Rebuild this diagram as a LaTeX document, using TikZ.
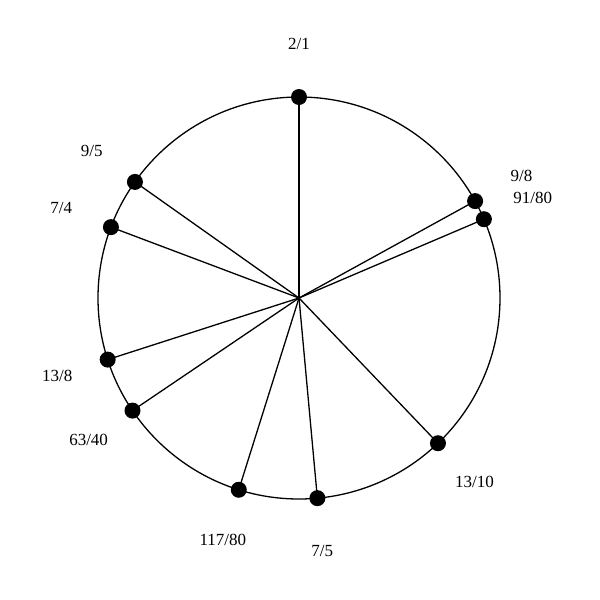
\documentclass[tikz,border=0pt]{standalone}
\usepackage{fontspec}
\setmainfont{Liberation Serif}
\begin{document}
\begin{tikzpicture}[x=1pt,y=-1pt,
  dot/.style={circle,fill=black,inner sep=0pt,minimum size=16pt},
  lbl/.style={font=\fontsize{17}{19}\selectfont,inner sep=0pt},
  spoke/.style={line width=1.3pt}]
\useasboundingbox (0,0) rectangle (600,600);
\coordinate (c) at (299,298);
\draw[spoke] (c) circle (201);
\foreach \a/\t/\n in {0/2\slash1/p1, 61.173/9\slash8/p2, 66.912/91\slash80/p3, 136.264/13\slash10/p4, 174.754/7\slash5/p5, 197.437/117\slash80/p6, 235.926/63\slash40/p7, 252.158/13\slash8/p8, 290.648/7\slash4/p9, 305.279/9\slash5/p10}{
  \node[dot] (\n) at ({299+201*sin(\a)},{298-201*cos(\a)}) {};
  \draw[spoke] (c) -- (\n.center);
  \node[lbl] (l\n) at ({299+254*sin(\a)},{298-254*cos(\a)}) {\t};
}
\end{tikzpicture}
\end{document}
